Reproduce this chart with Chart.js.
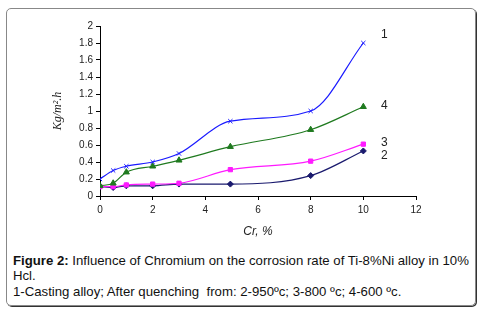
<!DOCTYPE html>
<html>
<head>
<meta charset="utf-8">
<script src="https://cdn.jsdelivr.net/npm/chart.js@4/dist/chart.umd.min.js"></script>
<style>
  body { margin: 0; background: #fff; font-family: "Liberation Sans", Arial, sans-serif; }
  #frame {
    position: absolute; left: 6px; top: 8px; width: 468px; height: 296px;
    border: 1.5px solid #888; border-radius: 5px;
    box-shadow: 1px 1px 0 #333;
  }
  #wrap { position: absolute; left: 0; top: 0; width: 483px; height: 245px; }
  #caption {
    position: absolute; left: 13px; top: 253px; width: 462px;
    font-size: 13.2px; line-height: 15.3px; color: #111;
  }
</style>
</head>
<body>
<div id="frame"></div>
<div id="wrap"><canvas id="corrChart"></canvas></div>
<div id="caption"><b>Figure 2:</b> Influence of Chromium on the corrosion rate of Ti-8%Ni alloy in 10% Hcl.<br>1-Casting alloy; After quenching&nbsp; from: 2-950ºc; 3-800 ºc; 4-600 ºc.</div>
<script>
const chromium = [0, 0.5, 1, 2, 3, 4.95, 8, 10];
const casting = [0.2, 0.3, 0.35, 0.4, 0.5, 0.88, 1.0, 1.8];      // 1
const quench950 = [0.11, 0.10, 0.12, 0.12, 0.14, 0.14, 0.24, 0.53]; // 2
const quench800 = [0.11, 0.11, 0.13, 0.14, 0.15, 0.31, 0.41, 0.61]; // 3
const quench600 = [0.12, 0.15, 0.28, 0.35, 0.42, 0.58, 0.78, 1.05]; // 4
const curveLabels = [
    { text: '1', x: 10.8, y: 1.9 },
    { text: '4', x: 10.8, y: 1.06 },
    { text: '3', x: 10.8, y: 0.63 },
    { text: '2', x: 10.8, y: 0.47 }
];

function pts(ys) {
    return chromium.map((x, i) => ({ x: x, y: ys[i] }));
}

// numbers next to the curves
const curveNumbers = {
    id: 'curveNumbers',
    afterDatasetsDraw(chart) {
        const c = chart.ctx;
        c.save();
        c.font = '12px "Liberation Sans", Arial, sans-serif';
        c.fillStyle = '#222';
        c.textAlign = 'center';
        c.textBaseline = 'middle';
        curveLabels.forEach(l => {
            c.fillText(l.text, chart.scales.x.getPixelForValue(l.x), chart.scales.y.getPixelForValue(l.y));
        });
        c.restore();
    }
};

const ctx = document.getElementById('corrChart').getContext('2d');

const corrChart = new Chart(ctx, {
    type: 'line',
    data: {
        datasets: [{
            label: '1',
            data: pts(casting),
            borderColor: '#1a1aff',
            backgroundColor: '#1a1aff',
            pointStyle: 'crossRot',
            pointRadius: 3,
            pointBorderWidth: 1,
        }, {
            label: '4',
            data: pts(quench600),
            borderColor: '#1f7a1f',
            backgroundColor: '#1f7a1f',
            pointStyle: 'triangle',
            pointRadius: 3.5,
        }, {
            label: '3',
            data: pts(quench800),
            borderColor: '#ff1aff',
            backgroundColor: '#ff1aff',
            pointStyle: 'rect',
            pointRadius: 3,
        }, {
            label: '2',
            data: pts(quench950),
            borderColor: '#1a1a6e',
            backgroundColor: '#1a1a6e',
            pointStyle: 'rectRot',
            pointRadius: 3,
        }]
    },
    options: {
        responsive: true,
        maintainAspectRatio: false,
        animation: false,
        layout: { padding: { left: 47, right: 67, top: 26, bottom: 2 } },
        elements: { line: { borderWidth: 1.2, fill: false, cubicInterpolationMode: 'monotone' } },
        plugins: { legend: { display: false }, tooltip: { enabled: false } },
        scales: {
            x: {
                type: 'linear',
                min: 0,
                max: 12,
                afterFit: s => { s.height = 47; },
                ticks: { stepSize: 2, color: '#222', font: { size: 10, family: '"Liberation Sans", Arial' }, padding: 4 },
                grid: { drawOnChartArea: false, color: '#000', tickLength: 4 },
                border: { color: '#000' },
                title: { display: true, text: 'Cr, %', color: '#222', font: { size: 12, style: 'italic', family: '"Liberation Sans", Arial' } }
            },
            y: {
                min: 0,
                max: 2,
                afterFit: s => { s.width = 53; },
                ticks: {
                    stepSize: 0.2, color: '#222', padding: 3,
                    font: { size: 10, family: '"Liberation Sans", Arial' },
                    callback: v => String(Math.round(v * 10) / 10)
                },
                grid: { drawOnChartArea: false, color: '#000', tickLength: 4 },
                border: { color: '#000' },
                title: { display: true, text: 'Kg/m².h', color: '#222', font: { size: 12, style: 'italic', family: '"Liberation Serif", "Times New Roman", serif' } }
            }
        }
    },
    plugins: [curveNumbers]
});
</script>
</body>
</html>
